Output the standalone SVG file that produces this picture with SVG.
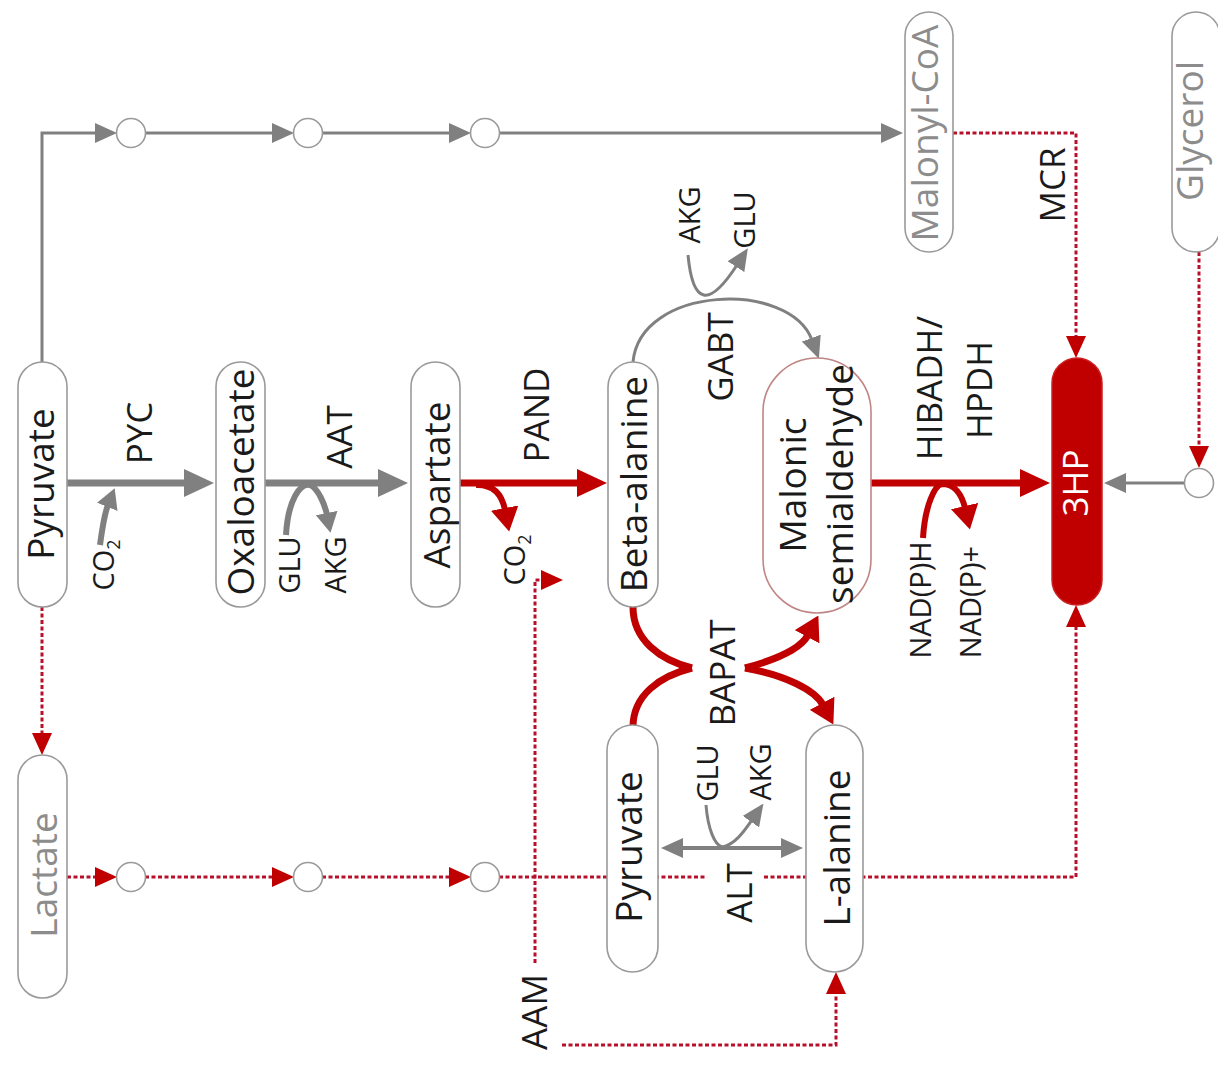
<svg xmlns="http://www.w3.org/2000/svg" width="1218" height="1067" viewBox="0 0 1218 1067">
<style>
text{font-family:"Open Sans","Liberation Sans",sans-serif;fill:#1a1a1a;text-anchor:middle}
.node{fill:#fff;stroke:#9a9a9a;stroke-width:1.6}
.circ{fill:#fff;stroke:#9a9a9a;stroke-width:1.6}
.big{font-size:37px}
.enz{font-size:35px}
.sm{font-size:29px}
.faded{fill:#8c8c8c}
.g-thick{fill:none;stroke:#808080;stroke-width:7}
.r-thick{fill:none;stroke:#c00000;stroke-width:7}
.g-thin{fill:none;stroke:#808080;stroke-width:3}
.g-mid{fill:none;stroke:#808080;stroke-width:6}
.r-mid{fill:none;stroke:#c00000;stroke-width:6}
.dot{fill:none;stroke:#b8102a;stroke-width:3;stroke-dasharray:4 2.5}
</style>
<defs>
<marker id="ag-big" viewBox="0 -14 30 28" markerWidth="30" markerHeight="28" refX="2" refY="0" markerUnits="userSpaceOnUse" orient="auto"><path d="M0,-14L30,0L0,14z" fill="#808080"/></marker>
<marker id="ar-big" viewBox="0 -14 30 28" markerWidth="30" markerHeight="28" refX="2" refY="0" markerUnits="userSpaceOnUse" orient="auto"><path d="M0,-14L30,0L0,14z" fill="#c00000"/></marker>
<marker id="ag-s" viewBox="0 -10 22 20" markerWidth="22" markerHeight="20" refX="2" refY="0" markerUnits="userSpaceOnUse" orient="auto-start-reverse"><path d="M0,-10L22,0L0,10z" fill="#808080"/></marker>
<marker id="ar-s" viewBox="0 -10 22 20" markerWidth="22" markerHeight="20" refX="2" refY="0" markerUnits="userSpaceOnUse" orient="auto"><path d="M0,-10L22,0L0,10z" fill="#c00000"/></marker>
<marker id="ag-m" viewBox="0 -11 20 22" markerWidth="20" markerHeight="22" refX="2" refY="0" markerUnits="userSpaceOnUse" orient="auto"><path d="M0,-11L20,0L0,11z" fill="#808080"/></marker>
<marker id="ar-m" viewBox="0 -14 24 28" markerWidth="24" markerHeight="28" refX="2" refY="0" markerUnits="userSpaceOnUse" orient="auto"><path d="M0,-14L24,0L0,14z" fill="#c00000"/></marker>
</defs>
<rect width="1218" height="1067" fill="#fff"/>

<g id="connectors">
  <path class="g-thin" d="M42,362V133H97" marker-end="url(#ag-s)"/>
  <path class="g-thin" d="M145,133H274" marker-end="url(#ag-s)"/>
  <path class="g-thin" d="M322,133H451" marker-end="url(#ag-s)"/>
  <path class="g-thin" d="M499,133H883" marker-end="url(#ag-s)"/>
  <path class="dot" d="M953,133H1076V338" marker-end="url(#ar-s)"/>
  <path class="dot" d="M1199,252V448" marker-end="url(#ar-s)"/>
  <path class="g-thin" d="M1184,483H1124" marker-end="url(#ag-s)"/>
  <path class="g-thick" d="M67,483H186" marker-end="url(#ag-big)"/>
  <path class="g-mid" d="M100,545Q104,515 108,505" marker-end="url(#ag-m)"/>
  <path class="g-thick" d="M265,483H380" marker-end="url(#ag-big)"/>
  <path class="g-mid" d="M286,535C288,500 300,483 310,485C318,488 325,505 327,515" marker-end="url(#ag-m)"/>
  <path class="r-thick" d="M460,483H579" marker-end="url(#ar-big)"/>
  <path class="r-mid" d="M476,485Q500,484 505,510" marker-end="url(#ar-m)"/>
  <path class="r-thick" d="M870,483H1022" marker-end="url(#ar-big)"/>
  <path class="r-mid" d="M923,538C925,505 935,485 942,484C955,484 962,495 965,508" marker-end="url(#ar-m)"/>
  <path class="g-thin" d="M633,362C640,285 790,280 812,340" marker-end="url(#ag-s)"/>
  <path class="g-thin" d="M688,255Q695,330 737,265" marker-end="url(#ag-s)"/>
  <path class="r-thick" d="M633,607C633,640 660,660 692,668"/>
  <path class="r-thick" d="M633,727C633,695 660,676 692,668"/>
  <path class="r-mid" style="stroke-width:7" d="M745,668C775,660 800,650 808,635" marker-end="url(#ar-m)"/>
  <path class="r-mid" style="stroke-width:7" d="M745,668C785,675 815,690 823,705" marker-end="url(#ar-m)"/>
  <path class="g-thin" style="stroke-width:4" d="M681,848H783" marker-start="url(#ag-s)" marker-end="url(#ag-s)"/>
  <path class="g-thin" d="M706,805C708,830 715,845 722,847C735,845 745,830 752,820" marker-end="url(#ag-s)"/>
  <path class="dot" d="M42,607V735" marker-end="url(#ar-s)"/>
  <path class="dot" d="M67,877H97" marker-end="url(#ar-s)"/>
  <path class="dot" d="M145,877H274" marker-end="url(#ar-s)"/>
  <path class="dot" d="M322,877H451" marker-end="url(#ar-s)"/>
  <path class="dot" d="M499,877H705M764,877H1076V625" marker-end="url(#ar-s)"/>
  <path class="dot" d="M535,963V580H543" marker-end="url(#ar-s)"/>
  <path class="dot" d="M562,1045H836V992" marker-end="url(#ar-s)"/>
</g>

<g id="intermediates">
  <circle class="circ" cx="131" cy="133" r="14.5"/>
  <circle class="circ" cx="308" cy="133" r="14.5"/>
  <circle class="circ" cx="485" cy="133" r="14.5"/>
  <circle class="circ" cx="131" cy="877" r="14.5"/>
  <circle class="circ" cx="308" cy="877" r="14.5"/>
  <circle class="circ" cx="485" cy="877" r="14.5"/>
  <circle class="circ" cx="1199" cy="483" r="14.5"/>
</g>

<g id="n-pyruvate1"><rect class="node" x="18" y="362" width="49" height="245" rx="24.5"/><text class="big" transform="translate(54,484) rotate(-90)">Pyruvate</text></g>
<g id="n-oxaloacetate"><rect class="node" x="216" y="362" width="49" height="245" rx="24.5"/><text class="big" transform="translate(254,482) rotate(-90)">Oxaloacetate</text></g>
<g id="n-aspartate"><rect class="node" x="411" y="362" width="49" height="245" rx="24.5"/><text class="big" transform="translate(450,485) rotate(-90)">Aspartate</text></g>
<g id="n-betaalanine"><rect class="node" x="608" y="362" width="50" height="245" rx="25"/><text class="big" transform="translate(647,484) rotate(-90)">Beta-alanine</text></g>
<g id="n-malonic"><rect class="node" style="stroke:#c08585" x="763" y="358" width="108" height="255" rx="54"/><text class="big" transform="translate(806,485) rotate(-90)">Malonic</text><text class="big" transform="translate(853,484) rotate(-90)">semialdehyde</text></g>
<g id="n-3hp"><rect x="1052" y="358" width="50" height="247" rx="25" fill="#c00000" stroke="#cc2020" stroke-width="1.5"/><text style="font-size:35px;fill:#fff" transform="translate(1088,483) rotate(-90)">3HP</text></g>
<g id="n-malonylcoa"><rect class="node" x="905" y="12" width="48" height="240" rx="24"/><text class="big faded" transform="translate(938,133) rotate(-90)">Malonyl-CoA</text></g>
<g id="n-glycerol"><rect class="node" x="1172" y="12" width="48" height="240" rx="24"/><text class="big faded" transform="translate(1203,131) rotate(-90)">Glycerol</text></g>
<g id="n-lactate"><rect class="node" x="18" y="755" width="49" height="243" rx="24.5"/><text class="big faded" transform="translate(57,875) rotate(-90)">Lactate</text></g>
<g id="n-pyruvate2"><rect class="node" x="607" y="725" width="51" height="247" rx="25.5"/><text class="big" transform="translate(642,847) rotate(-90)">Pyruvate</text></g>
<g id="n-lalanine"><rect class="node" x="806" y="725" width="57" height="247" rx="28.5"/><text class="big" transform="translate(850,848) rotate(-90)">L-alanine</text></g>

<g id="labels">
  <text class="enz" transform="translate(152,433) rotate(-90)">PYC</text>
  <text class="enz" transform="translate(352,437) rotate(-90)">AAT</text>
  <text class="enz" transform="translate(549,415) rotate(-90)">PAND</text>
  <text class="enz" transform="translate(733,357) rotate(-90)">GABT</text>
  <text class="enz" transform="translate(735,673) rotate(-90)">BAPAT</text>
  <text class="enz" transform="translate(752,893) rotate(-90)">ALT</text>
  <text class="enz" transform="translate(1065,185) rotate(-90)">MCR</text>
  <text class="enz" transform="translate(942,388) rotate(-90)">HIBADH/</text>
  <text class="enz" transform="translate(992,390) rotate(-90)">HPDH</text>
  <text class="enz" transform="translate(547,1012) rotate(-90)">AAM</text>
  <text class="sm" transform="translate(114,565) rotate(-90)">CO<tspan font-size="18" dy="6">2</tspan></text>
  <text class="sm" transform="translate(300,565) rotate(-90)">GLU</text>
  <text class="sm" transform="translate(346,565) rotate(-90)">AKG</text>
  <text class="sm" transform="translate(525,560) rotate(-90)">CO<tspan font-size="18" dy="6">2</tspan></text>
  <text class="sm" transform="translate(700,215) rotate(-90)">AKG</text>
  <text class="sm" transform="translate(755,220) rotate(-90)">GLU</text>
  <text class="sm" transform="translate(931,600) rotate(-90)">NAD(P)H</text>
  <text class="sm" transform="translate(981,602) rotate(-90)">NAD(P)+</text>
  <text class="sm" transform="translate(718,773) rotate(-90)">GLU</text>
  <text class="sm" transform="translate(771,772) rotate(-90)">AKG</text>
</g>
</svg>
